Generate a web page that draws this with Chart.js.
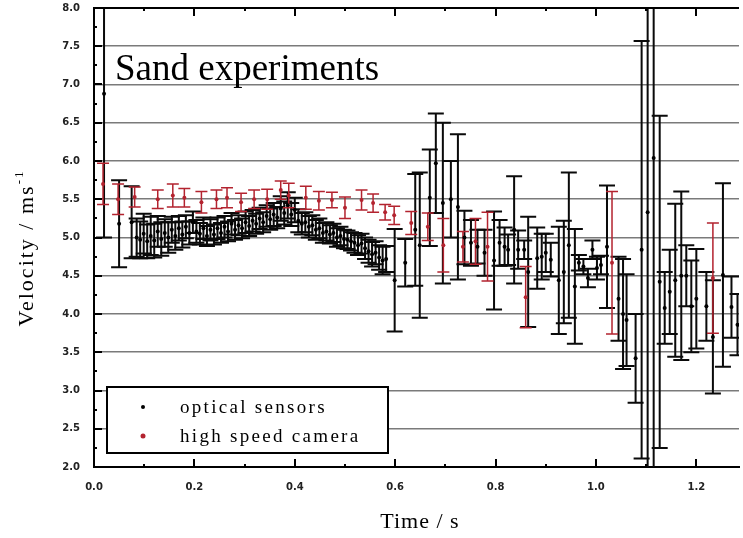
<!DOCTYPE html>
<html>
<head>
<meta charset="utf-8">
<script src="https://cdn.jsdelivr.net/npm/chart.js@4.4.0/dist/chart.umd.min.js"></script>
<style>
  html, body { margin: 0; padding: 0; background: #fff; }
</style>
</head>
<body>
<canvas id="velocityChart" width="743" height="538"></canvas>
<script>
// optical sensors: time (s), velocity (m/s), error (m/s)
const opticalTime = [
  0.020, 0.050, 0.075, 0.085, 0.092, 0.099, 0.106, 0.113, 0.120, 0.127,
  0.134, 0.141, 0.148, 0.155, 0.162, 0.169, 0.176, 0.183, 0.190, 0.197,
  0.204, 0.211, 0.218, 0.225, 0.232, 0.239, 0.246, 0.253, 0.260, 0.267,
  0.274, 0.281, 0.288, 0.295, 0.302, 0.309, 0.316, 0.323, 0.330, 0.337,
  0.344, 0.351, 0.358, 0.365, 0.372, 0.379, 0.386, 0.393, 0.400, 0.407,
  0.414, 0.421, 0.428, 0.435, 0.442, 0.449, 0.456, 0.463, 0.470, 0.477,
  0.484, 0.491, 0.498, 0.505, 0.512, 0.519, 0.526, 0.533, 0.540, 0.547,
  0.554, 0.561, 0.568, 0.575, 0.582, 0.599, 0.620, 0.640, 0.649, 0.669,
  0.681, 0.695, 0.711, 0.725, 0.738, 0.751, 0.764, 0.778, 0.797, 0.808,
  0.818, 0.825, 0.837, 0.845, 0.857, 0.865, 0.883, 0.892, 0.900, 0.910,
  0.926, 0.936, 0.946, 0.958, 0.966, 0.975, 0.984, 0.993, 1.002, 1.010,
  1.022, 1.045, 1.054, 1.061, 1.079, 1.091, 1.103, 1.115, 1.127, 1.137,
  1.147, 1.158, 1.170, 1.180, 1.190, 1.200, 1.220, 1.233, 1.253, 1.270,
  1.282
];
const opticalVelocity = [
  6.88, 5.18, 5.20, 5.00, 4.97, 5.05, 4.95, 5.02, 4.96, 5.08,
  4.98, 5.06, 5.00, 5.10, 5.02, 5.12, 5.04, 5.14, 5.06, 5.20,
  5.08, 5.05, 5.12, 5.02, 5.10, 5.04, 5.12, 5.06, 5.14, 5.08,
  5.18, 5.10, 5.16, 5.12, 5.20, 5.15, 5.22, 5.18, 5.25, 5.20,
  5.28, 5.24, 5.30, 5.26, 5.38, 5.32, 5.42, 5.30, 5.36, 5.22,
  5.18, 5.20, 5.14, 5.16, 5.10, 5.12, 5.06, 5.08, 5.04, 5.06,
  5.00, 5.02, 4.98, 4.97, 4.95, 4.93, 4.90, 4.92, 4.86, 4.82,
  4.78, 4.80, 4.74, 4.70, 4.72, 4.44, 4.67, 5.10, 4.90, 5.52,
  5.97, 5.45, 5.50, 5.40, 5.00, 4.93, 4.88, 4.80, 4.70, 4.93,
  4.88, 4.84, 5.10, 4.84, 4.84, 4.55, 4.73, 4.75, 4.80, 4.71,
  4.44, 4.55, 4.90, 4.36, 4.67, 4.62, 4.47, 4.84, 4.60, 4.64,
  4.88, 4.20, 4.00, 3.92, 3.42, 4.84, 5.33, 6.04, 4.42, 4.08,
  4.29, 4.44, 4.50, 4.50, 4.10, 4.20, 4.10, 3.70, 4.51, 4.09,
  3.86
];
const opticalError = [
  1.88, 0.57, 0.47, 0.25, 0.24, 0.26, 0.22, 0.25, 0.22, 0.20,
  0.22, 0.18, 0.20, 0.17, 0.18, 0.16, 0.17, 0.15, 0.15, 0.14,
  0.15, 0.14, 0.14, 0.13, 0.14, 0.13, 0.14, 0.13, 0.14, 0.13,
  0.14, 0.13, 0.13, 0.13, 0.14, 0.13, 0.14, 0.13, 0.14, 0.13,
  0.14, 0.14, 0.15, 0.14, 0.16, 0.15, 0.17, 0.15, 0.16, 0.15,
  0.14, 0.13, 0.14, 0.13, 0.13, 0.13, 0.13, 0.12, 0.12, 0.12,
  0.12, 0.12, 0.12, 0.12, 0.12, 0.13, 0.13, 0.13, 0.14, 0.15,
  0.16, 0.15, 0.16, 0.18, 0.17, 0.67, 0.31, 0.73, 0.95, 0.63,
  0.65, 1.05, 0.50, 0.95, 0.35, 0.30, 0.22, 0.30, 0.64, 0.30,
  0.25, 0.20, 0.70, 0.25, 0.12, 0.72, 0.40, 0.30, 0.25, 0.22,
  0.70, 0.67, 0.95, 0.75, 0.10, 0.10, 0.12, 0.12, 0.15, 0.12,
  0.80, 0.55, 0.72, 0.60, 0.58, 2.73, 3.60, 4.30, 2.17, 0.47,
  0.55, 1.00, 1.10, 0.40, 0.60, 0.65, 0.45, 0.74, 1.20, 0.40,
  0.40
];

// high speed camera: time (s), velocity (m/s), error (m/s)
const cameraTime = [
  0.018, 0.048, 0.081, 0.127, 0.157, 0.180, 0.214, 0.244, 0.265, 0.293,
  0.319, 0.345, 0.372, 0.388, 0.422, 0.448, 0.474, 0.500, 0.533, 0.556,
  0.580, 0.598, 0.632, 0.665, 0.696, 0.735, 0.760, 0.784, 0.860, 1.032,
  1.233
];
const cameraVelocity = [
  5.70, 5.50, 5.53, 5.50, 5.55, 5.52, 5.46, 5.50, 5.52, 5.46,
  5.50, 5.50, 5.62, 5.55, 5.52, 5.48, 5.49, 5.39, 5.49, 5.45,
  5.33, 5.29, 5.19, 5.14, 4.90, 4.88, 4.95, 4.88, 4.22, 4.67,
  4.47
];
const cameraError = [
  0.27, 0.20, 0.13, 0.12, 0.15, 0.12, 0.14, 0.12, 0.13, 0.12,
  0.12, 0.13, 0.12, 0.16, 0.15, 0.12, 0.10, 0.14, 0.13, 0.12,
  0.10, 0.12, 0.15, 0.18, 0.35, 0.20, 0.30, 0.45, 0.40, 0.93,
  0.72
];

const seriesNames = ["optical sensors", "high speed camera"];
const seriesColors = ["#000000", "#b3232f"];

const TIME_MAX = 1.285;
const SERIF = '"Liberation Serif", "Times New Roman", serif';

// per-dataset error bar look
const errorStyle = [
  { values: opticalVelocity, errors: opticalError, color: "#0a0a0a", width: 2, cap: 8 },
  { values: cameraVelocity, errors: cameraError, color: "#b3232f", width: 1.5, cap: 6 },
];

const errorBars = {
  id: "errorBars",
  beforeDatasetsDraw(chart) {
    const { ctx, chartArea, scales } = chart;
    ctx.save();
    ctx.beginPath();
    ctx.rect(chartArea.left, chartArea.top, chartArea.right - chartArea.left, chartArea.bottom - chartArea.top);
    ctx.clip();
    errorStyle.forEach((style, di) => {
      const meta = chart.getDatasetMeta(di);
      ctx.strokeStyle = style.color;
      ctx.lineWidth = style.width;
      meta.data.forEach((pt, i) => {
        const v = style.values[i];
        const e = style.errors[i];
        const yTop = scales.y.getPixelForValue(v + e);
        const yBot = scales.y.getPixelForValue(v - e);
        const x = pt.x;
        ctx.beginPath();
        ctx.moveTo(x, yTop);
        ctx.lineTo(x, yBot);
        ctx.moveTo(x - style.cap, yTop);
        ctx.lineTo(x + style.cap, yTop);
        ctx.moveTo(x - style.cap, yBot);
        ctx.lineTo(x + style.cap, yBot);
        ctx.stroke();
      });
    });
    ctx.restore();
  },
};

// frame top edge, inward tick marks, titles and the boxed legend
const decorations = {
  id: "decorations",
  afterDraw(chart) {
    const { ctx, chartArea, scales } = chart;
    const { left, right, top, bottom } = chartArea;
    ctx.save();
    ctx.strokeStyle = "#000";
    ctx.lineWidth = 2;
    ctx.beginPath();
    ctx.moveTo(left, top);
    ctx.lineTo(right, top);
    ctx.stroke();

    ctx.beginPath();
    for (let k = 1; k <= 12; k++) {
      const t = k / 10;
      const x = Math.round(scales.x.getPixelForValue(t));
      const len = k % 2 === 0 ? 8 : 3;
      ctx.moveTo(x, bottom);
      ctx.lineTo(x, bottom - len);
      ctx.moveTo(x, top);
      ctx.lineTo(x, top + len);
    }
    for (let k = 1; k < 24; k++) {
      const v = 2 + k * 0.25;
      const y = Math.round(scales.y.getPixelForValue(v));
      const len = k % 2 === 0 ? 8 : 3;
      ctx.moveTo(left, y);
      ctx.lineTo(left + len, y);
    }
    ctx.stroke();

    // title inside the plot
    ctx.fillStyle = "#000";
    ctx.font = "37px " + SERIF;
    ctx.textAlign = "left";
    ctx.textBaseline = "alphabetic";
    ctx.fillText("Sand experiments", 115, 80);

    // x axis title
    ctx.font = "22px " + SERIF;
    ctx.letterSpacing = "1px";
    ctx.textAlign = "center";
    ctx.textBaseline = "middle";
    ctx.fillText("Time / s", 420, 522);

    // y axis title with superscript
    ctx.save();
    ctx.translate(33, 248);
    ctx.rotate(-Math.PI / 2);
    ctx.textAlign = "left";
    ctx.textBaseline = "alphabetic";
    ctx.letterSpacing = "2px";
    ctx.font = "22px " + SERIF;
    const mainText = "Velocity / ms";
    const mainW = ctx.measureText(mainText).width;
    ctx.font = "13px " + SERIF;
    const supW = ctx.measureText("-1").width;
    const start = -(mainW + supW) / 2;
    ctx.font = "22px " + SERIF;
    ctx.fillText(mainText, start, 0);
    ctx.font = "13px " + SERIF;
    ctx.fillText("-1", start + mainW, -10);
    ctx.restore();

    // legend
    ctx.letterSpacing = "0px";
    ctx.fillStyle = "#fff";
    ctx.fillRect(107, 387, 281, 66);
    ctx.strokeStyle = "#000";
    ctx.lineWidth = 2;
    ctx.strokeRect(107, 387, 281, 66);
    const rows = [407, 436];
    rows.forEach((y, i) => {
      ctx.fillStyle = seriesColors[i];
      ctx.beginPath();
      ctx.arc(143, y, i === 0 ? 2 : 2.5, 0, Math.PI * 2);
      ctx.fill();
      ctx.fillStyle = "#000";
      ctx.font = "19px " + SERIF;
      ctx.letterSpacing = "2.3px";
      ctx.textAlign = "left";
      ctx.textBaseline = "middle";
      ctx.fillText(seriesNames[i], 180, y + 1);
    });
    ctx.restore();
  },
};

const tickFont = { family: "DejaVu Sans", size: 10, weight: "bold" };

new Chart(document.getElementById("velocityChart").getContext("2d"), {
  type: "scatter",
  data: {
    datasets: [
      {
        label: seriesNames[0],
        data: opticalTime.map((t, i) => ({ x: t, y: opticalVelocity[i] })),
        pointRadius: 2,
        pointBackgroundColor: seriesColors[0],
        pointBorderWidth: 0,
      },
      {
        label: seriesNames[1],
        data: cameraTime.map((t, i) => ({ x: t, y: cameraVelocity[i] })),
        pointRadius: 2,
        pointBackgroundColor: seriesColors[1],
        pointBorderWidth: 0,
      },
    ],
  },
  options: {
    responsive: false,
    animation: false,
    devicePixelRatio: 1,
    layout: { padding: { top: 8, right: 0, left: 0, bottom: 0 } },
    plugins: { legend: { display: false }, tooltip: { enabled: false } },
    scales: {
      x: {
        type: "linear",
        min: 0,
        max: TIME_MAX,
        ticks: {
          stepSize: 0.2,
          includeBounds: false,
          maxRotation: 0,
          padding: 14,
          color: "#222",
          font: tickFont,
          callback: (v) => Number(v).toFixed(1),
        },
        grid: { display: false, drawTicks: false },
        border: { display: true, color: "#000", width: 2 },
        afterFit: (scale) => {
          scale.height = 71;
          scale.paddingLeft = 0;
          scale.paddingRight = 0;
        },
      },
      y: {
        min: 2,
        max: 8,
        ticks: {
          stepSize: 0.5,
          padding: 14,
          color: "#222",
          font: tickFont,
          callback: (v) => Number(v).toFixed(1),
        },
        grid: {
          drawTicks: false,
          lineWidth: 1.6,
          color: (c) => (c.tick && (c.tick.value === 2 || c.tick.value === 8) ? "rgba(0,0,0,0)" : "#7a7a7a"),
        },
        border: { display: true, color: "#000", width: 2 },
        afterFit: (scale) => {
          scale.width = 94;
          scale.paddingTop = 0;
          scale.paddingBottom = 0;
        },
      },
    },
  },
  plugins: [errorBars, decorations],
});
</script>
</body>
</html>
